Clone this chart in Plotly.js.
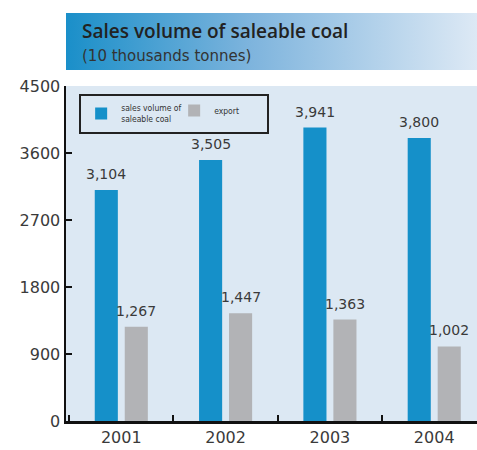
<!DOCTYPE html>
<html><head><meta charset="utf-8">
<script src="https://cdn.plot.ly/plotly-3.0.1.min.js"></script>
<style>html,body{margin:0;padding:0;background:#fff}#chart{width:477px;height:450px}</style>
</head><body><div id="chart"></div>
<script>
const years = ['2001', '2002', '2003', '2004'];
const salesVolume = [3104, 3505, 3941, 3800];
const exportVolume = [1267, 1447, 1363, 1002];
const yTicks = [0, 900, 1800, 2700, 3600, 4500];

const blue = '#1590c9', gray = '#b2b3b6', bg = '#dce8f3';
const fmt = v => v.toLocaleString('en-US');

const traces = [
  {type: 'bar', name: 'sales volume of<br>saleable coal', x: years, y: salesVolume, marker: {color: blue}},
  {type: 'bar', name: 'export', x: years, y: exportVolume, marker: {color: gray}}
];

const labelFont = {family: 'DejaVu Sans', size: 14, color: '#3a3a3a'};
const annotations = [];
years.forEach((yr, i) => {
  annotations.push({x: i, y: salesVolume[i], text: fmt(salesVolume[i]), xref: 'x', yref: 'y', showarrow: false,
    xshift: -15, yanchor: 'middle', yshift: 16, font: labelFont});
  annotations.push({x: i, y: exportVolume[i], text: fmt(exportVolume[i]), xref: 'x', yref: 'y', showarrow: false,
    xshift: 15, yanchor: 'middle', yshift: 16, font: labelFont});
});
annotations.push({xref: 'paper', yref: 'paper', x: 0.033, y: 1.0 + (86 - 31) / 335, xanchor: 'left', yanchor: 'middle',
  text: 'Sales volume of saleable coal', showarrow: false,
  font: {family: 'Open Sans', size: 19, color: '#222', weight: 600}});
annotations.push({xref: 'paper', yref: 'paper', x: 0.033, y: 1.0 + (86 - 56) / 335, xanchor: 'left', yanchor: 'middle',
  text: '(10 thousands tonnes)', showarrow: false,
  font: {family: 'DejaVu Sans', size: 15, color: '#333'}});

const grad = 'data:image/svg+xml;utf8,' + encodeURIComponent(
  '<svg xmlns="http://www.w3.org/2000/svg" width="411" height="57" preserveAspectRatio="none">' +
  '<defs><linearGradient id="g" x1="0" y1="0" x2="1" y2="0">' +
  '<stop offset="0" stop-color="#1a8fc9"/><stop offset="0.45" stop-color="#7eb4dd"/><stop offset="1" stop-color="#dde9f5"/>' +
  '</linearGradient></defs><rect width="411" height="57" fill="url(#g)"/></svg>');

const layout = {
  width: 477, height: 450,
  margin: {l: 66, r: 0, t: 86, b: 29},
  paper_bgcolor: '#fff', plot_bgcolor: bg,
  barmode: 'group', bargap: 0.425, bargroupgap: 0.23,
  showlegend: true,
  legend: {orientation: 'h', x: 0.032, y: 0.976, xanchor: 'left', yanchor: 'top',
    bgcolor: bg, bordercolor: '#222', borderwidth: 2,
    font: {family: 'Liberation Sans Narrow, DejaVu Sans Condensed, Roboto', size: 8.5, color: '#333'},
    itemwidth: 30, entrywidth: 48, tracegroupgap: 0},
  xaxis: {type: 'category', range: [-0.53, 3.41], tickson: 'boundaries', ticks: 'inside', ticklen: 6, tickwidth: 2, tickcolor: '#111',
    showline: true, linecolor: '#111', linewidth: 2.5, showgrid: false, zeroline: false,
    tickfont: {family: 'DejaVu Sans', size: 16, color: '#3a3a3a'}, fixedrange: true},
  yaxis: {range: [0, 4500], tickvals: yTicks, ticktext: yTicks.map(String), ticks: 'inside', ticklen: 6, tickwidth: 2, tickcolor: '#111',
    showline: true, linecolor: '#111', linewidth: 2.5, showgrid: false, zeroline: false,
    tickfont: {family: 'DejaVu Sans', size: 16, color: '#3a3a3a'}, fixedrange: true},
  images: [{source: grad, xref: 'paper', yref: 'paper', x: 0, y: 1 + (86 - 13) / 335, sizex: 1, sizey: 57 / 335,
    xanchor: 'left', yanchor: 'top', sizing: 'stretch', layer: 'below'}],
  annotations: annotations
};

Plotly.newPlot('chart', traces, layout, {displayModeBar: false, staticPlot: true});
</script></body></html>
